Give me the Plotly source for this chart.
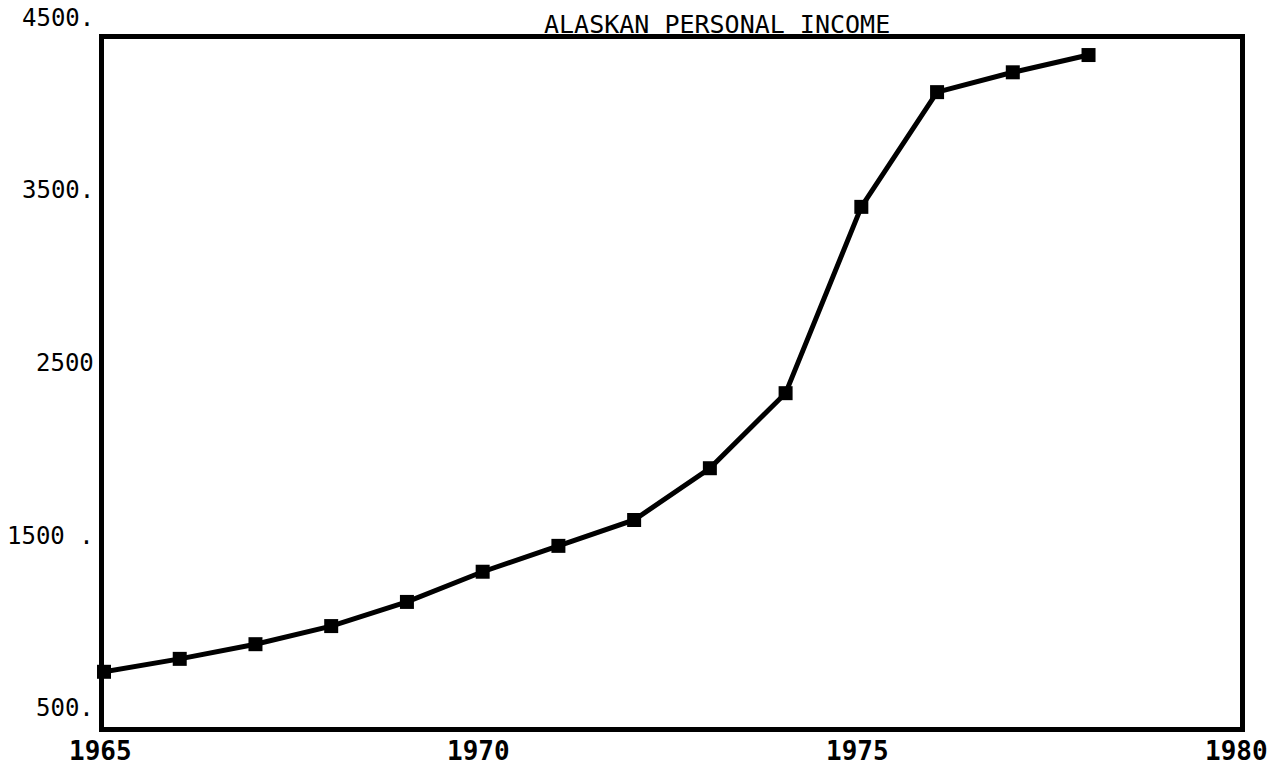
import plotly.graph_objects as go

# Alaskan personal income
years = [1965, 1966, 1967, 1968, 1969, 1970, 1971, 1972, 1973, 1974, 1975, 1976, 1977, 1978]
income = [710, 785, 870, 975, 1115, 1290, 1440, 1590, 1890, 2325, 3405, 4070, 4185, 4285]

y_ticks = [4500, 3500, 2500, 1500, 500]
y_tick_text = ["4500.", "3500.", "2500", "1500 .", "500."]
x_ticks = [1965, 1970, 1975, 1980]
x_tick_text = ["1965", "1970", "1975", "1980"]

title = "ALASKAN PERSONAL INCOME"

W, H = 1275, 768
margin = dict(l=104, r=35, t=39, b=41)
plot_w = W - margin["l"] - margin["r"]
y_range = [390, 4378]

mono = "DejaVu Sans Mono"

fig = go.Figure()
fig.add_trace(
    go.Scatter(
        x=years,
        y=income,
        mode="lines+markers",
        line=dict(color="black", width=5),
        marker=dict(symbol="square", size=14, color="black"),
        cliponaxis=False,
        showlegend=False,
    )
)

annotations = []
for val, txt in zip(y_ticks, y_tick_text):
    # paper position so labels above the axis range still show
    annotations.append(
        dict(
            x=-8 / plot_w,
            xref="paper",
            y=(val - y_range[0]) / (y_range[1] - y_range[0]),
            yref="paper",
            text=txt,
            showarrow=False,
            xanchor="right",
            yanchor="middle",
            font=dict(family=mono, size=24, color="black"),
        )
    )
for val, txt in zip(x_ticks, x_tick_text):
    annotations.append(
        dict(
            x=val,
            xref="x",
            y=0,
            yref="paper",
            yshift=-24,
            xshift=-4,
            text="<b>" + txt + "</b>",
            showarrow=False,
            xanchor="center",
            yanchor="middle",
            font=dict(family=mono, size=26, color="black"),
        )
    )
annotations.append(
    dict(
        x=(717 - margin["l"]) / plot_w,
        xref="paper",
        y=1,
        yref="paper",
        yshift=-2,
        text=title,
        showarrow=False,
        xanchor="center",
        yanchor="bottom",
        font=dict(family=mono, size=25, color="black"),
    )
)

fig.update_layout(
    width=W,
    height=H,
    margin=margin,
    paper_bgcolor="white",
    plot_bgcolor="white",
    annotations=annotations,
    xaxis=dict(
        range=[1965, 1980],
        showgrid=False,
        zeroline=False,
        showticklabels=False,
        ticks="",
        showline=True,
        mirror=True,
        linecolor="black",
        linewidth=5,
    ),
    yaxis=dict(
        range=y_range,
        showgrid=False,
        zeroline=False,
        showticklabels=False,
        ticks="",
        showline=True,
        mirror=True,
        linecolor="black",
        linewidth=5,
    ),
)

fig.write_html(
    "out.html",
    config={"displayModeBar": False},
    post_script="document.body.style.margin='0';document.body.style.overflow='hidden';",
)
